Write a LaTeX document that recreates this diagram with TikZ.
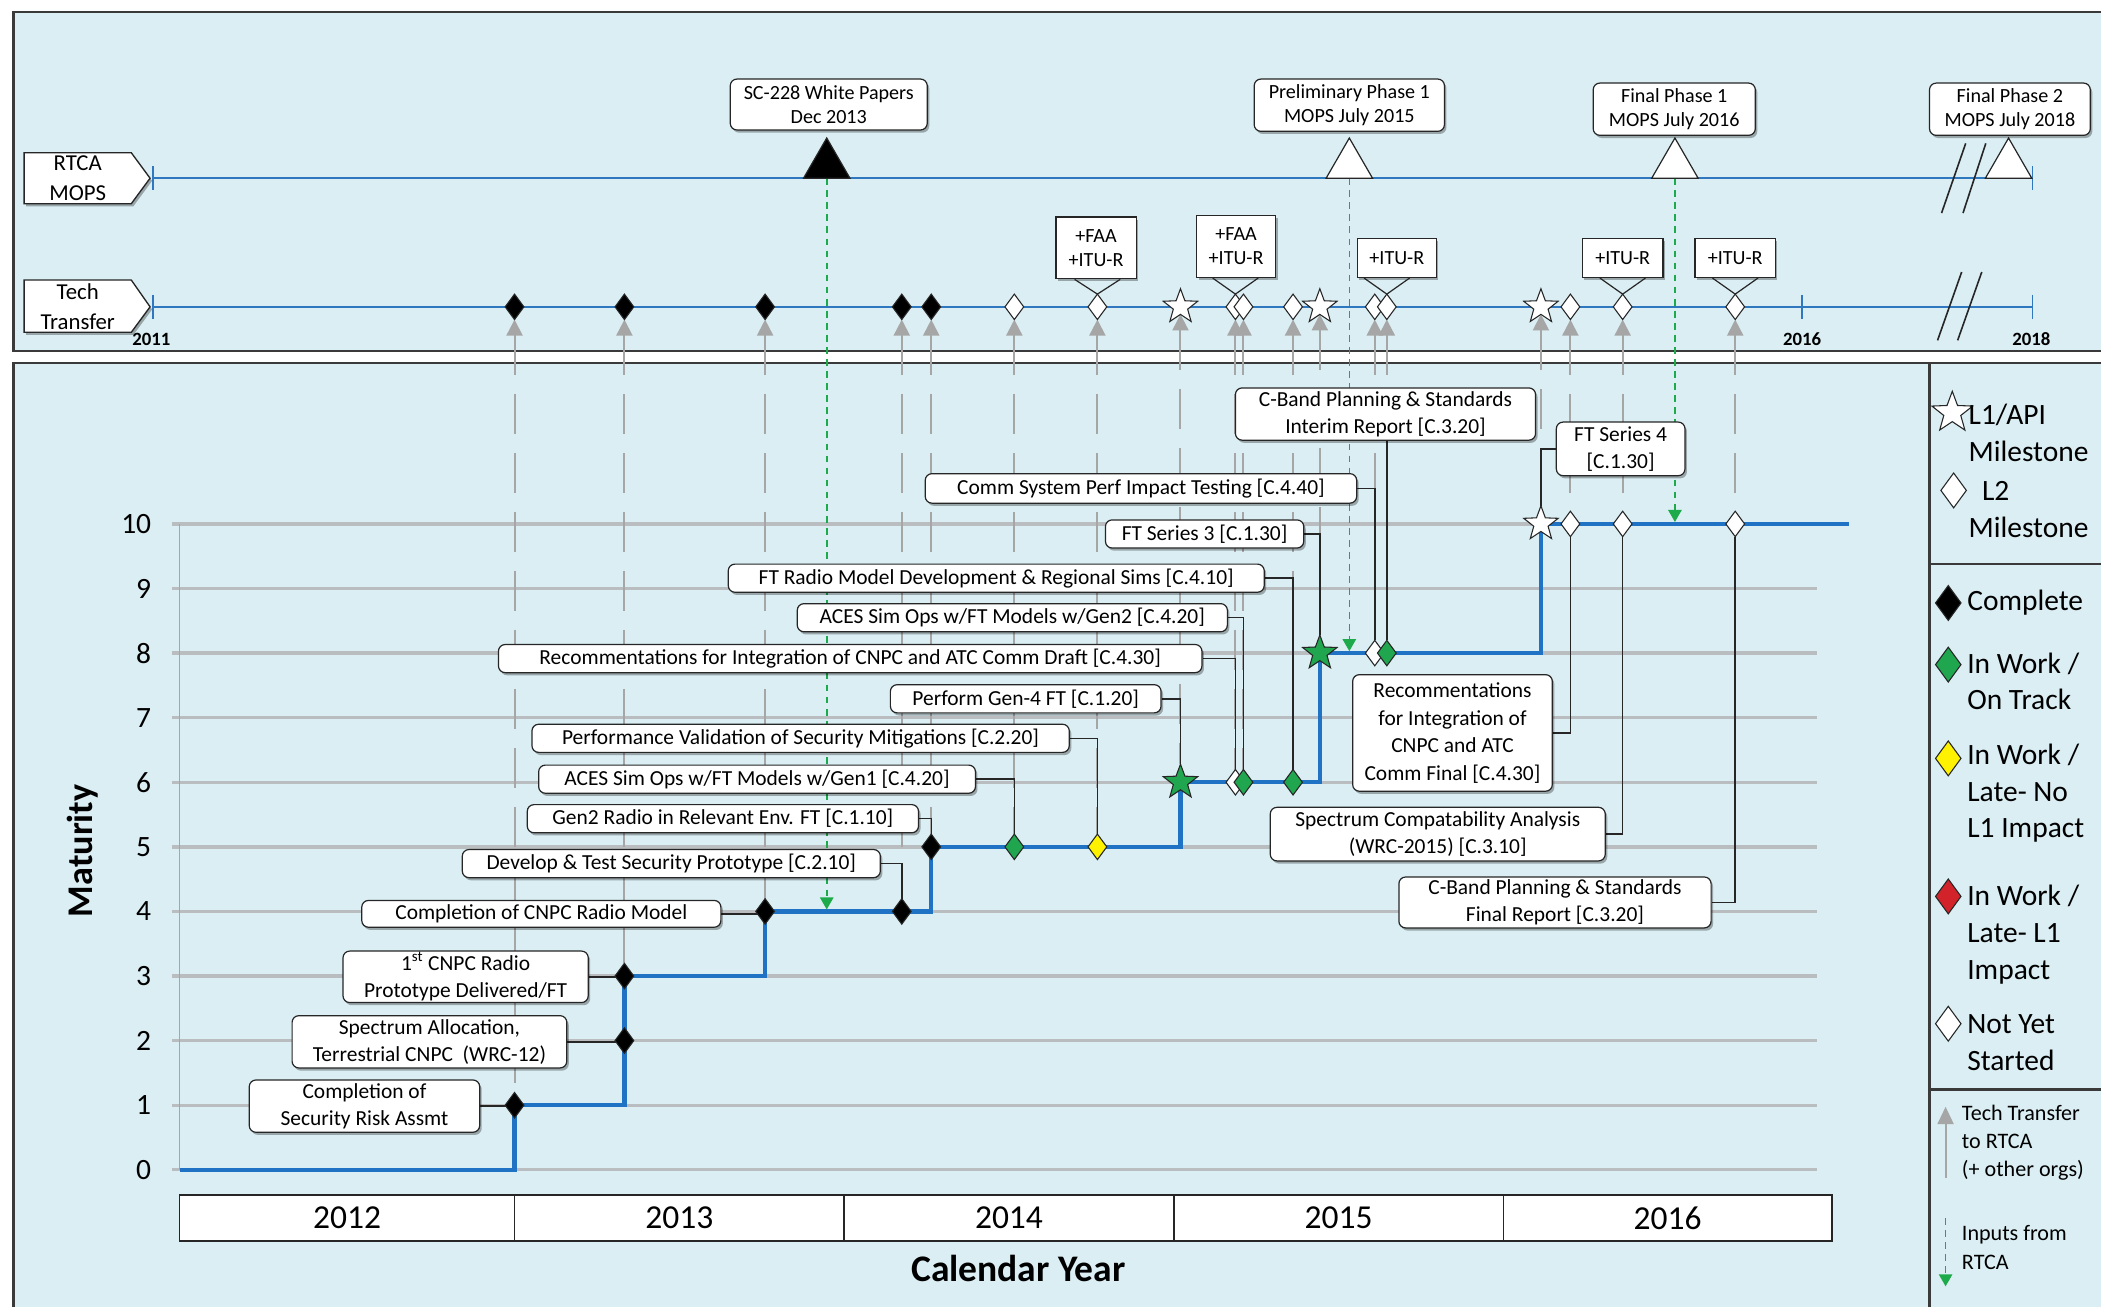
\documentclass[tikz,border=0pt]{standalone}
\usepackage{fontspec}
\setmainfont{Carlito}
\usetikzlibrary{arrows.meta,positioning,calc,shapes.geometric,shadows}
\definecolor{panelblue}{HTML}{DAEEF3}
\definecolor{ink}{HTML}{262626}
\definecolor{frame}{HTML}{3A3A3A}
\definecolor{trackblue}{HTML}{2F78C0}
\definecolor{stepblue}{HTML}{1F72C4}
\definecolor{gridgray}{HTML}{B9BDBF}
\definecolor{ttgray}{HTML}{A6A6A6}
\definecolor{rtcagreen}{HTML}{1DAA4B}
\definecolor{okgreen}{HTML}{1FA64E}
\definecolor{lateyellow}{HTML}{FFF200}
\definecolor{latered}{HTML}{D2232A}
\pgfdeclarelayer{panel}
\pgfdeclarelayer{wires}
\pgfsetlayers{panel,wires,main}

\begin{document}
\begin{tikzpicture}[
  x=1pt,y=-1pt,
  line join=miter,
  font=\fontsize{16}{20.5}\selectfont,
  panelbox/.style={draw=frame,line width=2pt,fill=panelblue},
  boxshadow/.style={drop shadow={shadow xshift=1.5pt,shadow yshift=-2pt,opacity=.3,fill=black}},
  tagshape/.style={draw=ink,fill=white,line width=1pt,boxshadow},
  taglbl/.style={align=center,inner sep=0pt,font=\fontsize{17}{22}\selectfont},
  yrtag/.style={font=\bfseries\fontsize{14}{16}\selectfont,inner sep=0pt},
  track/.style={draw=trackblue,line width=1.8pt},
  tracktick/.style={draw=trackblue,line width=1.2pt},
  breakmark/.style={draw=ink,line width=1.2pt},
  callout/.style={draw=ink,fill=white,rounded corners=5pt,line width=.9pt,
                  inner sep=1pt,align=center,boxshadow},
  topnote/.style={callout,font=\fontsize{15}{18.5}\selectfont},
  tagbox/.style={draw=ink,fill=white,line width=1pt,inner sep=1pt,align=center,
                 font=\fontsize{15}{18}\selectfont,boxshadow},
  mopstri/.style={regular polygon,regular polygon sides=3,draw=ink,line width=.9pt,
                  minimum size=40pt,inner sep=0pt,outer sep=0pt,fill=white},
  dmd/.style={diamond,draw=ink,line width=.8pt,minimum width=14pt,minimum height=19pt,
              inner sep=0pt,outer sep=0pt},
  msdone/.style={dmd,fill=black},
  mswork/.style={dmd,fill=okgreen},
  mslate/.style={dmd,fill=lateyellow},
  msred/.style={dmd,fill=latered},
  msopen/.style={dmd,fill=white},
  starbase/.style={star,star points=5,star point ratio=2.4,draw=ink,line width=.8pt,
                   minimum size=27pt,inner sep=0pt,outer sep=0pt},
  msstar/.style={starbase,fill=white},
  msstarwork/.style={starbase,fill=okgreen},
  ttline/.style={draw=ttgray,line width=1.5pt,dash pattern=on 30pt off 14pt,
                 <-,>={Triangle[width=12pt,length=12pt]}},
  rtcain/.style={draw=rtcagreen,line width=1.2pt,dash pattern=on 5pt off 4pt,
                 ->,>={Triangle[width=10pt,length=9pt]}},
  progress/.style={draw=stepblue,line width=3.2pt},
  gridline/.style={draw=gridgray,line width=2.5pt},
  axisline/.style={draw=gray!70,line width=.8pt},
  leader/.style={draw=ink,line width=1.1pt},
  yearcell/.style={draw=ink,fill=white,line width=1.2pt,minimum height=34pt,
                   inner sep=0pt,font=\fontsize{25}{30}\selectfont},
  ticklbl/.style={anchor=east,inner sep=0pt,font=\fontsize{22}{26}\selectfont},
  lgtext/.style={anchor=west,align=left,inner sep=1pt,font=\fontsize{22}{27.5}\selectfont},
  lgsmall/.style={anchor=west,align=left,inner sep=1pt,font=\fontsize{16.5}{21}\selectfont},
  lgmark/.style={minimum width=19pt,minimum height=26pt}
]
\useasboundingbox (0,0) rectangle (1568,975);

% panels
\begin{pgfonlayer}{panel}
  \fill[white] (0,0) rectangle (1568,975);
  \draw[panelbox] (10,9) rectangle (1580,262);
  \draw[panelbox] (10,271) rectangle (1580,990);
  \draw[draw=frame,line width=2pt] (1440,271) -- (1440,990);
  \draw[draw=frame,line width=2pt] (1440,421) -- (1580,421);
  \draw[draw=frame,line width=2pt] (1440,813) -- (1580,813);
\end{pgfonlayer}

% RTCA MOPS track
\draw[tagshape] (18,114) -- (98,114) -- (112,133) -- (98,152) -- (18,152) -- cycle;
\node[taglbl] (rtca) at (58,133) {RTCA\\MOPS};
\coordinate (rtcaL) at (114,133);
\coordinate (rtcaR) at (1517,133);
\draw[breakmark] (1449,159) -- (1467,107);
\draw[breakmark] (1465,159) -- (1482,107);

\node[mopstri,fill=black] (wp) at (617,123) {};
\node[mopstri] (prelim) at (1007,123) {};
\node[mopstri] (fin1) at (1250,123) {};
\node[mopstri] (fin2) at (1499,123) {};
\node[topnote,minimum width=147pt,minimum height=38pt] (wpnote) at (618.5,78)
  {SC-228 White Papers\\Dec 2013};
\node[topnote,minimum width=142pt,minimum height=39pt] (prelimnote) at (1007,78.5)
  {Preliminary Phase 1\\MOPS July 2015};
\node[topnote,minimum width=121pt,minimum height=39pt] (fin1note) at (1249.5,81.5)
  {Final Phase 1\\MOPS July 2016};
\node[topnote,minimum width=120pt,minimum height=39pt] (fin2note) at (1500,81.5)
  {Final Phase 2\\MOPS July 2018};

% Tech Transfer track
\draw[tagshape] (18,209) -- (98,209) -- (112,229) -- (98,248) -- (18,248) -- cycle;
\node[taglbl] (tech) at (58,229) {Tech\\Transfer};
\coordinate (techL) at (114,229);
\coordinate (techR) at (1517,229);
\node[yrtag] (y2011) at (113,253) {2011};
\node[yrtag] (y2016) at (1345,253) {2016};
\node[yrtag] (y2018) at (1516,253) {2018};
\draw[breakmark] (1446,254) -- (1464,203);
\draw[breakmark] (1461,254) -- (1479,203);

\foreach \tn/\x/\s in {1/384/msdone,2/466/msdone,3/571/msdone,4/673/msdone,5/695/msdone,
    6/757/msopen,7/819/msopen,8/881/msstar,9/922/msopen,10/928/msopen,11/965/msopen,
    12/985/msstar,13/1026/msopen,14/1035/msopen,15/1150/msstar,16/1172/msopen,
    17/1211/msopen,18/1295/msopen}
  \node[\s] (t\tn) at (\x,229) {};

\node[tagbox,minimum width=60pt,minimum height=46pt] (faa1) at (818,185) {+FAA\\+ITU-R};
\node[tagbox,minimum width=59pt,minimum height=46pt] (faa2) at (922.5,184) {+FAA\\+ITU-R};
\node[tagbox,minimum width=59pt,minimum height=29pt] (itu1) at (1042.5,192.5) {+ITU-R};
\node[tagbox,minimum width=60pt,minimum height=29pt] (itu2) at (1211,192.5) {+ITU-R};
\node[tagbox,minimum width=60pt,minimum height=29pt] (itu3) at (1295,192.5) {+ITU-R};
\foreach \b/\tn in {faa1/t7,faa2/t9,itu1/t14,itu2/t17,itu3/t18}
  \draw[leader,line width=.9pt] ($(\b.south -| \tn.north)+(-17,0)$) -- (\tn.north)
    -- ($(\b.south -| \tn.north)+(17,0)$);

% maturity chart
\begin{scope}[shift={(0,873)},y=48.2pt]
  \begin{pgfonlayer}{wires}
    \foreach \lv in {0,...,10}
      \draw[gridline] (128,\lv) -- (1356,\lv);
    \draw[axisline] (134,0) -- (134,10);
  \end{pgfonlayer}
  \foreach \lv in {0,...,10}
    \node[ticklbl] (lv\lv) at (113,\lv) {\lv};
  \foreach \n/\x/\lv/\s in {1/384/1/msdone,2/466/2/msdone,3/466/3/msdone,4/571/4/msdone,
      5/673/4/msdone,6/695/5/msdone,7/757/5/mswork,8/819/5/mslate,9/881/6/msstarwork,
      10/922/6/msopen,11/928/6/mswork,12/965/6/mswork,13/985/8/msstarwork,
      14/1026/8/msopen,15/1035/8/mswork,16/1150/10/msstar,17/1172/10/msopen,
      18/1211/10/msopen,19/1295/10/msopen}
    \node[\s] (m\n) at (\x,\lv) {};
  \coordinate (p0) at (134,0);
  \coordinate (p1) at (1380,10);
  \coordinate (in1) at (617,4.03);
  \coordinate (in2) at (1007,8.03);
  \coordinate (in3) at (1250,10.03);
\end{scope}

\node[callout,minimum width=172pt,minimum height=39pt] (c1) at (272,825.5)
  {Completion of\\Security Risk Assmt};
\node[callout,minimum width=205pt,minimum height=39pt] (c2) at (320.5,777.5)
  {Spectrum Allocation,\\Terrestrial CNPC\ \ (WRC-12)};
\node[callout,minimum width=183pt,minimum height=38pt] (c3) at (347.5,729)
  {1\textsuperscript{st} CNPC Radio\\Prototype Delivered/FT};
\node[callout,minimum width=268pt,minimum height=20pt] (c4) at (404,682)
  {Completion of CNPC Radio Model};
\node[callout,minimum width=312pt,minimum height=21pt] (c5) at (501,644.5)
  {Develop \& Test Security Prototype [C.2.10]};
\node[callout,minimum width=292pt,minimum height=21pt] (c6) at (539.5,611)
  {Gen2 Radio in Relevant Env. FT [C.1.10]};
\node[callout,minimum width=326pt,minimum height=21pt] (c7) at (565,581.5)
  {ACES Sim Ops w/FT Models w/Gen1 [C.4.20]};
\node[callout,minimum width=401pt,minimum height=21pt] (c8) at (597.5,551)
  {Performance Validation of Security Mitigations [C.2.20]};
\node[callout,minimum width=202pt,minimum height=21pt] (c9) at (765.5,521.5)
  {Perform Gen-4 FT [C.1.20]};
\node[callout,minimum width=525pt,minimum height=21pt] (c10) at (634.5,491.5)
  {Recommentations for Integration of CNPC and ATC Comm Draft [C.4.30]};
\node[callout,minimum width=321pt,minimum height=21pt] (c11) at (755.5,461)
  {ACES Sim Ops w/FT Models w/Gen2 [C.4.20]};
\node[callout,minimum width=400pt,minimum height=21pt] (c12) at (743.5,431.5)
  {FT Radio Model Development \& Regional Sims [C.4.10]};
\node[callout,minimum width=148pt,minimum height=21pt] (c13) at (899,398.5)
  {FT Series 3 [C.1.30]};
\node[callout,minimum width=322pt,minimum height=22pt] (c14) at (851.5,364.5)
  {Comm System Perf Impact Testing [C.4.40]};
\node[callout,minimum width=224pt,minimum height=39pt] (c15) at (1034,309)
  {C-Band Planning \& Standards\\Interim Report [C.3.20]};
\node[callout,minimum width=96pt,minimum height=40pt] (c16) at (1209.5,335)
  {FT Series 4\\{}[C.1.30]};
\node[callout,minimum width=149pt,minimum height=87pt] (c17) at (1084,547)
  {Recommentations\\for Integration of\\CNPC and ATC\\Comm Final [C.4.30]};
\node[callout,minimum width=250pt,minimum height=40pt] (c18) at (1073,622.5)
  {Spectrum Compatability Analysis\\(WRC-2015) [C.3.10]};
\node[callout,minimum width=233pt,minimum height=38pt] (c19) at (1160.5,673.5)
  {C-Band Planning \& Standards\\Final Report [C.3.20]};

\foreach \yr/\xa/\xb in {2012/134/384,2013/384/630,2014/630/876,2015/876/1122,2016/1122/1367}
  \node[yearcell,minimum width={(\xb-\xa)*1pt}] (yr\yr) at ({(\xa+\xb)/2},909) {\yr};
\node[font=\bfseries\fontsize{27}{30}\selectfont,rotate=90] (ylab) at (62,635) {Maturity};
\node[font=\bfseries\fontsize{28}{32}\selectfont] (xlab) at (760,947) {Calendar Year};

% legend
\node[msstar,minimum size=32pt] (lgstar) at (1457,308) {};
\node[lgtext] (lgstartxt) at (1468,323) {L1/API\\Milestone};
\node[msopen,lgmark] (lgl2) at (1458,366) {};
\node[lgtext] (lgl2txt) at (1468,380.5) {\hspace*{10pt}L2\\Milestone};
\node[msdone,lgmark] (lgdone) at (1454,450) {};
\node[lgtext] (lgdonetxt) at (1467,450) {Complete};
\node[mswork,lgmark] (lgwork) at (1454,496) {};
\node[lgtext] (lgworktxt) at (1467,508.5) {In Work /\\On Track};
\node[mslate,lgmark] (lglate) at (1454,566) {};
\node[lgtext] (lglatetxt) at (1467,592) {In Work /\\Late- No\\L1 Impact};
\node[msred,lgmark] (lgred) at (1454,669) {};
\node[lgtext] (lgredtxt) at (1467,697.5) {In Work /\\Late- L1\\Impact};
\node[msopen,lgmark] (lgopen) at (1454,764) {};
\node[lgtext] (lgopentxt) at (1467,778) {Not Yet\\Started};
\coordinate (lgttA) at (1452,826);
\coordinate (lgttB) at (1452,879);
\node[lgsmall] (lgtttxt) at (1463,853) {Tech Transfer\\to RTCA\\(+ other orgs)};
\coordinate (lginA) at (1452,909);
\coordinate (lginB) at (1452,960);
\node[lgsmall] (lgintxt) at (1463,931) {Inputs from\\RTCA};

% connectors under the nodes
\begin{pgfonlayer}{wires}
  \draw[track] (rtcaL) -- (rtcaR);
  \draw[track] (techL) -- (techR);
  \foreach \x/\y in {114/133,1517/133,114/229,1345/229,1517/229}
    \draw[tracktick] (\x,\y-9) -- (\x,\y+9);
  \foreach \tn/\n in {1/1,2/3,3/4,4/5,5/6,6/7,7/8,8/9,9/10,10/11,11/12,12/13,
      13/14,14/15,15/16,16/17,17/18,18/19}
    \draw[ttline] (t\tn) -- (m\n);
  \draw[rtcain] (wp) -- (in1);
  \draw[rtcain] (prelim) -- (in2);
  \draw[rtcain] (fin1) -- (in3);
  \foreach \n in {1,...,4}
    \draw[leader] (c\n.east) -- (c\n.east -| m\n.center);
  \foreach \n in {5,...,14,17,18,19}
    \draw[leader] (c\n.east) -| (m\n);
  \draw[leader] (c15.south -| m15) -- (m15);
  \draw[leader] (c16.west) -| (m16);
  \draw[progress] (p0) -| (m1.center) -| (m3.center) -| (m4.center) -- (m5.center)
    -| (m6.center) -- (m8.center) -| (m9.center) -| (m13.center) -| (m16.center) -- (p1);
  \draw[draw=ttgray,line width=1.5pt,<-,>={Triangle[width=12pt,length=13pt]}]
    (lgttA) -- (lgttB);
  \draw[rtcain] (lginA) -- (lginB);
\end{pgfonlayer}
\end{tikzpicture}
\end{document}
